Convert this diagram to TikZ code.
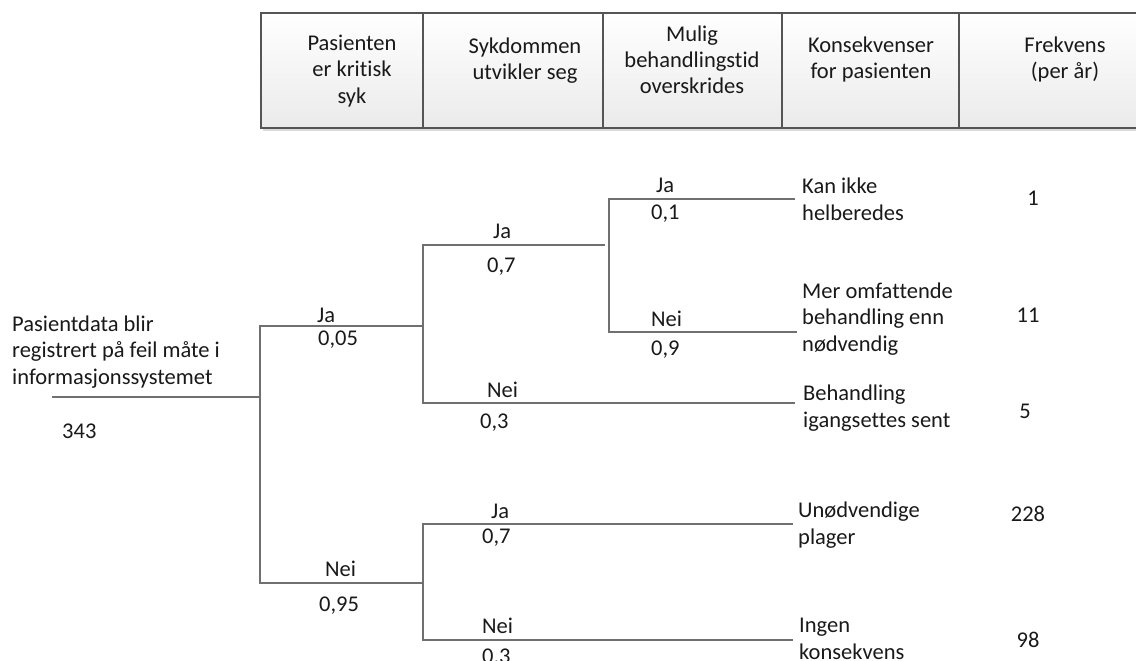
\documentclass[tikz,border=0pt]{standalone}
\usepackage{fontspec}
\setmainfont{Carlito}[Ligatures=NoCommon]
\newcommand\diagfont{\fontsize{22.5}{26.3}\selectfont}
\definecolor{treegray}{RGB}{112,112,112}
\definecolor{cellborder}{RGB}{85,85,85}
\begin{document}
\begin{tikzpicture}[x=1pt,y=-1pt,
  every node/.style={inner sep=0pt, font=\diagfont, text=black!90},
  % multi-line nodes are placed by the baseline of their last line
  lbl/.style={anchor=base west, align=left},
  ctr/.style={anchor=base, align=center},
  treeline/.style={draw=treegray, line width=1.3pt},
  treeshadow/.style={draw=gray!20, line width=1.3pt},
  cell/.style={top color=white, bottom color=gray!16, draw=cellborder, line width=1.2pt},
  cellshadow/.style={fill=gray!28}]
\useasboundingbox (0,0) rectangle (1136,661);
\clip (0,0) rectangle (1136,661);

% header row
\foreach \a/\b in {261/423,423/603,603/782,782/959,959/1171}
  \fill[cellshadow] (\a+2,15) rectangle (\b+2,131);
\foreach \a/\b in {261/423,423/603,603/782,782/959,959/1171}
  \shade[cell] (\a,13) rectangle (\b,128);

\node[ctr] (h1) at (352,103) {Pasienten\\er kritisk\\syk};
\node[ctr] (h2) at (525,80) {Sykdommen\\utvikler seg};
\node[ctr] (h3) at (692,94) {Mulig\\behandlingstid\\overskrides};
\node[ctr] (h4) at (871,79) {Konsekvenser\\for pasienten};
\node[ctr] (h5) at (1065,79) {Frekvens\\(per år)};

% junction points of the tree
\coordinate (start) at (52,397);
\coordinate (n1) at (260,397);
\coordinate (n2) at (423,326);
\coordinate (n3) at (423,583);
\coordinate (j2) at (605,245);
\coordinate (n4) at (609,245);
\coordinate (e1) at (795,199);
\coordinate (e2) at (797,332);
\coordinate (e3) at (795,403);
\coordinate (e4) at (793,524);
\coordinate (e5) at (793,640);

% faint offset shadow under the branches
\begin{scope}[shift={(1.6,1.6)}]
  \draw[treeshadow] (start) -- (n1);
  \draw[treeshadow] (n1) |- (n2);
  \draw[treeshadow] (n1) |- (n3);
  \draw[treeshadow] (n2) |- (j2);
  \draw[treeshadow] (n2) |- (e3);
  \draw[treeshadow] (n4) |- (e1);
  \draw[treeshadow] (n4) |- (e2);
  \draw[treeshadow] (n3) |- (e4);
  \draw[treeshadow] (n3) |- (e5);
\end{scope}

% branches
\draw[treeline] (start) -- (n1);
\draw[treeline] (n1) |- (n2);
\draw[treeline] (n1) |- (n3);
\draw[treeline] (n2) |- (j2);
\draw[treeline] (n2) |- (e3);
\draw[treeline] (n4) |- (e1);
\draw[treeline] (n4) |- (e2);
\draw[treeline] (n3) |- (e4);
\draw[treeline] (n3) |- (e5);

% event and count
\node[lbl] (event) at (12,384) {Pasientdata blir\\registrert på feil måte i\\informasjonssystemet};
\node[lbl] (total) at (62,438) {343};

% branch labels
\node[lbl] (b1y) at (317,322) {Ja};
\node[lbl] (p1y) at (318,345) {0,05};
\node[lbl] (b1n) at (325,576) {Nei};
\node[lbl] (p1n) at (319,611) {0,95};

\node[lbl] (b2y) at (493,238) {Ja};
\node[lbl] (p2y) at (487,272) {0,7};
\node[lbl] (b2n) at (487,397) {Nei};
\node[lbl] (p2n) at (480,428) {0,3};

\node[lbl] (b3y) at (656,192) {Ja};
\node[lbl] (p3y) at (651,219) {0,1};
\node[lbl] (b3n) at (651,326) {Nei};
\node[lbl] (p3n) at (651,355) {0,9};

\node[lbl] (b4y) at (491,518) {Ja};
\node[lbl] (p4y) at (482,543) {0,7};
\node[lbl] (b4n) at (482,633) {Nei};
\node[lbl] (p4n) at (482,663) {0,3};

% outcomes
\node[lbl] (o1) at (802,220) {Kan ikke\\helberedes};
\node[lbl] (o2) at (802,351) {Mer omfattende\\behandling enn\\nødvendig};
\node[lbl] (o3) at (803,427) {Behandling\\igangsettes sent};
\node[lbl] (o4) at (798,544) {Unødvendige\\plager};
\node[lbl] (o5) at (799,659) {Ingen\\konsekvens};

% frequencies
\node[ctr] (f1) at (1033,205) {1};
\node[ctr] (f2) at (1028,322) {11};
\node[ctr] (f3) at (1025,418) {5};
\node[ctr] (f4) at (1028,521) {228};
\node[ctr] (f5) at (1028,647) {98};
\end{tikzpicture}
\end{document}
